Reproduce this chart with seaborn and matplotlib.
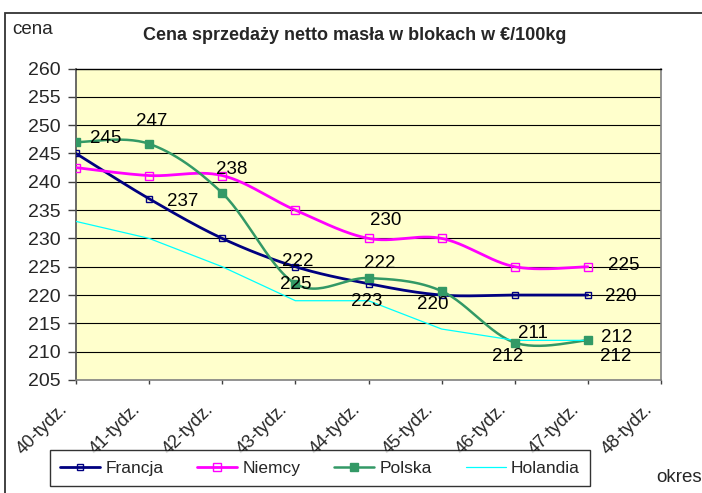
import numpy as np
import pandas as pd
import matplotlib
matplotlib.use('Agg')
import matplotlib.pyplot as plt
import seaborn as sns
from matplotlib.lines import Line2D
from matplotlib.patches import Rectangle
from matplotlib.transforms import ScaledTranslation

# data
weeks = ['40-tydz.', '41-tydz.', '42-tydz.', '43-tydz.', '44-tydz.',
         '45-tydz.', '46-tydz.', '47-tydz.', '48-tydz.']
francja = [245, 237, 230, 225, 222, 220, 220, 220]
niemcy = [242.5, 241.1, 241.1, 235, 230, 230, 225, 225]
polska = [247, 246.7, 238, 222, 223, 220.7, 211.6, 212]
holandia = [233, 230, 225, 219, 219, 214, 212, 212]

# data labels as they sit on the chart
label_text = ['245', '247', '238', '237', '222', '225', '230', '222',
              '223', '220', '225', '220', '211', '212', '212', '212']
label_x = [0.40, 1.035, 2.13, 1.46, 3.03, 3.0, 4.23, 4.16,
           3.97, 4.88, 7.49, 7.45, 6.25, 7.40, 5.91, 7.38]
label_y = [247.7, 250.6, 242.2, 236.5, 225.9, 221.9, 233.2, 225.6,
           218.8, 218.4, 225.2, 219.7, 213.2, 212.5, 209.1, 209.1]


def smooth(xs, ys, n=30):
    # Excel-like smoothed line (Bezier through the points)
    pts = np.column_stack([xs, ys]).astype(float)
    p = np.vstack([pts[0], pts, pts[-1]])
    t = np.linspace(0, 1, n)[:, None]
    out = []
    for i in range(1, len(p) - 2):
        p0, p1, p2, p3 = p[i - 1], p[i], p[i + 1], p[i + 2]
        c1 = p1 + (p2 - p0) / 6
        c2 = p2 - (p3 - p1) / 6
        seg = (1 - t) ** 3 * p1 + 3 * (1 - t) ** 2 * t * c1 + 3 * (1 - t) * t ** 2 * c2 + t ** 3 * p2
        out.append(seg if i == 1 else seg[1:])
    arr = np.vstack(out)
    return arr[:, 0], arr[:, 1]


sns.set_style('white')
plt.rcParams['font.family'] = ['Liberation Sans', 'DejaVu Sans']

fig = plt.figure(figsize=(7.02, 4.93), dpi=100)
ax = fig.add_axes([76 / 702, 1 - 380 / 493, 585 / 702, 311.5 / 493])
ax.set_facecolor('#FFFFCC')

x = np.arange(len(francja))
series = [
    ('Francja', francja, '#000080', 2.0, 's', 4.0, 'none', True),
    ('Niemcy', niemcy, '#FF00FF', 2.0, 's', 5.5, 'none', True),
    ('Polska', polska, '#339966', 1.8, 's', 6.0, '#339966', True),
    ('Holandia', holandia, '#00FFFF', 0.9, None, 0, 'none', False),
]

handles = []
for name, vals, col, lw, mk, ms, mfc, sm in series:
    if sm:
        sx, sy = smooth(x, vals)
    else:
        sx, sy = x, np.array(vals)
    df = pd.DataFrame({'x': sx, 'y': sy})
    sns.lineplot(data=df, x='x', y='y', ax=ax, color=col, lw=lw, sort=False,
                 estimator=None, zorder=3)
    if mk:
        ax.plot(x, vals, linestyle='none', marker=mk, ms=ms, mfc=mfc, mec=col,
                mew=1.0, zorder=4)
    handles.append(Line2D([], [], color=col, lw=lw, marker=mk, ms=ms, mfc=mfc,
                          mec=col, mew=1.0, label=name))

for t, lx, ly in zip(label_text, label_x, label_y):
    ax.text(lx, ly, t, ha='center', va='center', fontsize=13.5, color='black', zorder=6)

ax.set_xlim(0, 8)
ax.set_ylim(205, 260)
ax.set_yticks(np.arange(205, 261, 5))
ax.set_xticks(range(len(weeks)))
ax.set_xlabel('')
ax.set_ylabel('')
ax.tick_params(axis='y', direction='out', length=6, width=1, color='#404040',
               pad=5, labelsize=14, left=True)
ax.tick_params(axis='x', direction='out', length=3, width=1, color='#404040',
               pad=16.5, labelsize=13, bottom=True)
ax.set_xticklabels(weeks, rotation=45, ha='right', va='center', rotation_mode='anchor')
# shift the slanted labels left, as in the original
for lab in ax.get_xticklabels():
    lab.set_transform(lab.get_transform() + ScaledTranslation(-0.11, 0, fig.dpi_scale_trans))
for yv in range(210, 260, 5):
    ax.axhline(yv, color='black', lw=0.8, zorder=1)
for side in ['left', 'bottom', 'right']:
    ax.spines[side].set_color('#808080')
    ax.spines[side].set_linewidth(1.2)
ax.spines['left'].set_color('#505050')
ax.spines['top'].set_color('black')
ax.spines['top'].set_linewidth(1.0)

fig.text(355 / 702, 1 - 36 / 493, 'Cena sprzedaży netto masła w blokach w €/100kg',
         ha='center', va='center', fontsize=13, fontweight='bold')
fig.text(12 / 702, 1 - 29 / 493, 'cena', ha='left', va='center', fontsize=13.5)
fig.text(656 / 702, 1 - 478 / 493, 'okres', ha='left', va='center', fontsize=13.5)

leg = fig.legend(handles=handles, loc='center', bbox_to_anchor=(320 / 702, 1 - 468 / 493),
                 ncol=4, fontsize=12.5, frameon=True, fancybox=False, handlelength=2.3,
                 handletextpad=0.3, columnspacing=1.95, borderpad=0.6, borderaxespad=0)
leg.get_frame().set_edgecolor('black')
leg.get_frame().set_linewidth(1.0)

fig.patches.append(Rectangle((5 / 702, -0.05), 1.1, 1 - 12.7 / 493 + 0.05,
                             transform=fig.transFigure, fill=False,
                             edgecolor='#333333', lw=1.3, zorder=0))

fig.savefig('out.png', dpi=100)
